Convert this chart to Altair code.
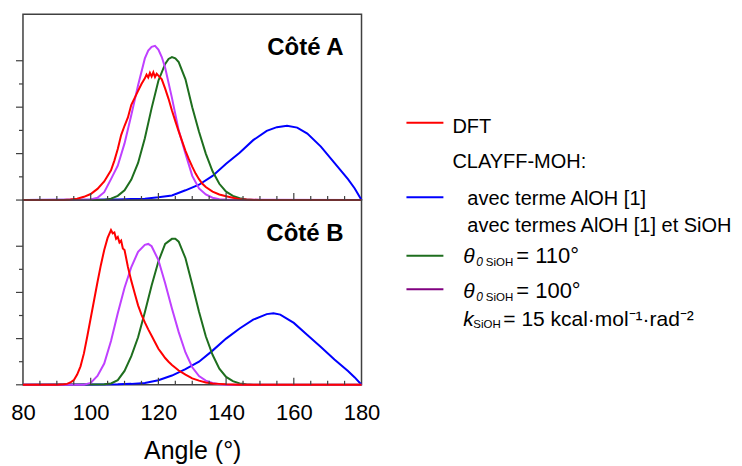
import altair as alt
import pandas as pd

FONT = "Liberation Sans, Arial, Helvetica, sans-serif"
AXC = "#404040"

RED = "#ff0000"
BLUE = "#0000ff"
GREEN = "#1e6e1e"
PURPLE = "#bf40ff"
PURPLE_LEG = "#800080"

# ---- Côté A ----
A_RED_X = [80, 92, 94, 96, 98, 100, 102, 104, 106, 107, 108, 109, 110, 111, 112, 113, 114, 115, 116,
           116.5, 117, 117.5, 118, 118.5, 119, 119.5, 120, 121, 122, 123, 124, 125, 126, 127, 128, 129,
           130, 131, 132, 133, 134, 136, 138, 140, 142, 144, 146, 150, 180]
A_RED_Y = [0, 0, 0.01, 0.03, 0.07, 0.13, 0.24, 0.4, 0.64, 0.85, 1.1, 1.4, 1.6, 1.78, 2.05, 2.2, 2.35, 2.5, 2.62,
           2.7, 2.64, 2.74, 2.66, 2.75, 2.65, 2.72, 2.68, 2.6, 2.4, 2.18, 1.93, 1.7, 1.48, 1.27, 1.06, 0.88,
           0.72, 0.57, 0.45, 0.35, 0.28, 0.18, 0.12, 0.08, 0.05, 0.02, 0.01, 0, 0]

A_PUR_X = [80, 100, 102, 104, 106, 108, 110, 112, 114, 116, 117, 118, 119, 120, 121, 122, 124, 126,
           128, 130, 132, 134, 136, 138, 140, 180]
A_PUR_Y = [0, 0.01, 0.05, 0.17, 0.45, 0.74, 1.22, 1.83, 2.47, 3.05, 3.22, 3.3, 3.32, 3.24, 3.08, 2.85, 2.2, 1.5,
           1.0, 0.52, 0.25, 0.12, 0.05, 0.02, 0.01, 0]

A_GRN_X = [80, 104, 106, 108, 110, 112, 114, 116, 118, 120, 122, 123, 124, 125, 126, 128, 130, 132,
           134, 136, 138, 140, 142, 144, 146, 148, 180]
A_GRN_Y = [0, 0, 0.03, 0.09, 0.21, 0.44, 0.8, 1.33, 1.98, 2.57, 2.93, 3.04, 3.08, 3.05, 2.97, 2.6, 2.0, 1.47,
           1.0, 0.62, 0.35, 0.18, 0.09, 0.04, 0.01, 0, 0]

A_BLU_X = [80, 100, 104, 108, 112, 116, 120, 124, 128, 132, 136, 140, 144, 148, 152, 155, 158, 161,
           164, 168, 172, 176, 178, 180]
A_BLU_Y = [0, 0.005, 0.01, 0.01, 0.02, 0.03, 0.06, 0.1, 0.21, 0.33, 0.52, 0.78, 1.02, 1.29, 1.49, 1.57, 1.6, 1.56,
           1.43, 1.15, 0.8, 0.45, 0.25, 0]

# ---- Côté B ----
B_RED_X = [80, 90, 92, 93, 94, 95, 96, 97, 98, 99, 100, 101, 102, 103, 104, 105, 106, 106.5, 107, 107.5,
           108, 108.5, 109, 109.5, 110, 111, 112, 113, 114, 115, 116, 117, 118, 119, 120, 121, 122, 123,
           124, 126, 128, 130, 132, 134, 136, 138, 140, 144, 180]
B_RED_Y = [0, 0, 0.01, 0.02, 0.05, 0.1, 0.22, 0.4, 0.68, 1.05, 1.44, 1.83, 2.22, 2.59, 2.92, 3.18, 3.35, 3.28,
           3.3, 3.16, 3.2, 3.08, 3.12, 2.95, 2.92, 2.55, 2.25, 1.98, 1.72, 1.52, 1.35, 1.2, 1.06, 0.92, 0.78,
           0.68, 0.58, 0.5, 0.43, 0.31, 0.22, 0.14, 0.09, 0.05, 0.03, 0.02, 0.01, 0, 0]

B_PUR_X = [80, 98, 100, 102, 104, 106, 108, 110, 112, 114, 116, 117, 118, 120, 122, 124, 126, 128,
           130, 132, 134, 136, 138, 140, 180]
B_PUR_Y = [0, 0, 0.04, 0.19, 0.46, 0.95, 1.55, 2.1, 2.55, 2.88, 3.03, 3.05, 3.0, 2.7, 2.2, 1.65, 1.14, 0.7,
           0.38, 0.19, 0.09, 0.04, 0.01, 0, 0]

B_GRN_X = [80, 104, 106, 108, 110, 112, 114, 116, 118, 120, 122, 124, 125, 126, 128, 130, 132, 134,
           136, 138, 140, 142, 144, 146, 148, 180]
B_GRN_Y = [0, 0.01, 0.03, 0.1, 0.3, 0.62, 1.03, 1.57, 2.15, 2.67, 3.05, 3.16, 3.16, 3.1, 2.74, 2.17, 1.58, 1.05,
           0.65, 0.35, 0.17, 0.08, 0.03, 0.01, 0, 0]

B_BLU_X = [80, 100, 108, 112, 116, 120, 124, 128, 132, 136, 140, 144, 148, 152, 154, 156, 160, 164,
           168, 172, 176, 178, 180]
B_BLU_Y = [0, 0.005, 0.01, 0.02, 0.04, 0.1, 0.2, 0.34, 0.5, 0.74, 1.0, 1.22, 1.41, 1.53, 1.55, 1.52, 1.34, 1.08,
           0.82, 0.55, 0.3, 0.16, 0]

# ---- axes / labels ----
X_LABELS = [80, 100, 120, 140, 160, 180]
XT_MAJOR = [100, 120, 140, 160]
XT_MINOR = [85, 90, 95, 105, 110, 115, 125, 130, 135, 145, 150, 155, 165, 170, 175]
YT_MAJOR = [0, 1, 2, 3]
YT_MINOR = [0.5, 1.5, 2.5]
PANEL_LABELS = ["Côté A", "Côté B"]
X_TITLE = "Angle (°)"

LEG_MAIN = ["DFT", "CLAYFF-MOH:", "avec terme AlOH [1]", "avec termes AlOH [1] et SiOH"]
LEG_THETA = ["θ", "0", "SiOH"]
LEG_THETA_VALUES = ["= 110°", "= 100°"]
LEG_K = ["k", "SiOH", "= 15 kcal·mol⁻¹·rad⁻²"]

W = 339
H_TOP = 186
H_BOT = 185

xscale = alt.Scale(domain=[80, 180], nice=False, zero=False)
yscale = alt.Scale(domain=[0, 4], nice=False, zero=True)


def make_x(show):
    if show:
        ax = alt.Axis(values=X_LABELS, labels=True, ticks=False, domain=False, grid=False,
                      labelFontSize=22, labelFont=FONT, labelColor="black", labelPadding=18,
                      labelFlush=False, title=X_TITLE, titleFontSize=25, titleFont=FONT,
                      titleFontWeight="normal", titleColor="black", titlePadding=15)
    else:
        ax = None
    return alt.X("angle:Q", scale=xscale, axis=ax)


Y = alt.Y("value:Q", scale=yscale, axis=None)


def panel(series, label, height, show_x):
    X = make_x(show_x)
    layers = []
    for xs, ys, color in series:
        df = pd.DataFrame({"angle": xs, "value": ys})
        layers.append(alt.Chart(df).mark_line(color=color, strokeWidth=2).encode(x=X, y=Y))
    # inward x ticks
    layers.append(alt.Chart(pd.DataFrame({"angle": XT_MAJOR})).mark_rule(color=AXC, strokeWidth=1.2)
                  .encode(x=X, y=alt.value(height), y2=alt.value(height - 7)))
    layers.append(alt.Chart(pd.DataFrame({"angle": XT_MINOR})).mark_rule(color=AXC, strokeWidth=1.2)
                  .encode(x=X, y=alt.value(height), y2=alt.value(height - 4)))
    # outward y ticks
    layers.append(alt.Chart(pd.DataFrame({"value": YT_MAJOR})).mark_rule(color=AXC, strokeWidth=1.2)
                  .encode(y=Y, x=alt.value(0), x2=alt.value(-7)))
    layers.append(alt.Chart(pd.DataFrame({"value": YT_MINOR})).mark_rule(color=AXC, strokeWidth=1.2)
                  .encode(y=Y, x=alt.value(0), x2=alt.value(-4)))
    layers.append(alt.Chart(pd.DataFrame({"t": [label]})).mark_text(
        align="right", baseline="alphabetic", fontSize=24, fontWeight="bold", font=FONT, color="black")
        .encode(text="t:N", x=alt.value(321), y=alt.value(41)))
    return layers


def txt(s, x, y, size=20, style="normal", color="black"):
    return alt.Chart(pd.DataFrame({"t": [s]})).mark_text(
        align="left", baseline="alphabetic", fontSize=size, fontStyle=style, font=FONT, color=color
    ).encode(text="t:N", x=alt.value(x), y=alt.value(y))


def legline(y, color):
    return alt.Chart(pd.DataFrame({"t": [0]})).mark_rule(color=color, strokeWidth=2).encode(
        x=alt.value(384), x2=alt.value(421), y=alt.value(y))


top_layers = panel([(A_BLU_X, A_BLU_Y, BLUE), (A_GRN_X, A_GRN_Y, GREEN),
                    (A_PUR_X, A_PUR_Y, PURPLE), (A_RED_X, A_RED_Y, RED)],
                   PANEL_LABELS[0], H_TOP, False)
bot_layers = panel([(B_BLU_X, B_BLU_Y, BLUE), (B_GRN_X, B_GRN_Y, GREEN),
                    (B_PUR_X, B_PUR_Y, PURPLE), (B_RED_X, B_RED_Y, RED)],
                   PANEL_LABELS[1], H_BOT, True)

legend = [
    legline(-77.3, RED), legline(-2.7, BLUE), legline(55.7, GREEN), legline(89.3, PURPLE_LEG),
    txt(LEG_MAIN[0], 430, -66.7),
    txt(LEG_MAIN[1], 430, -31.7),
    txt(LEG_MAIN[2], 445, 5),
    txt(LEG_MAIN[3], 445, 31.7),
]
for yb, val in zip([63.3, 98.3], LEG_THETA_VALUES):
    legend += [
        txt(LEG_THETA[0], 441, yb, 21, "italic"),
        txt(LEG_THETA[1], 454, yb + 2.5, 12, "italic"),
        txt(LEG_THETA[2], 463.5, yb + 2.5, 11.5),
        txt(val, 494, yb, 22),
    ]
legend += [
    txt(LEG_K[0], 441, 126, 21, "italic"),
    txt(LEG_K[1], 451, 128.5, 11.5),
    txt(LEG_K[2], 481, 126, 21),
]

top = alt.layer(*top_layers).properties(width=W, height=H_TOP)
bot = alt.layer(*(bot_layers + legend)).properties(width=W, height=H_BOT)

chart = alt.vconcat(top, bot, spacing=0, bounds="flush").properties(
    padding={"left": 2, "top": 5, "right": 0, "bottom": 0},
    background="white",
).configure_view(stroke=AXC, strokeWidth=1.5)

chart.save("out.html", embed_options={"renderer": "svg", "actions": False})
